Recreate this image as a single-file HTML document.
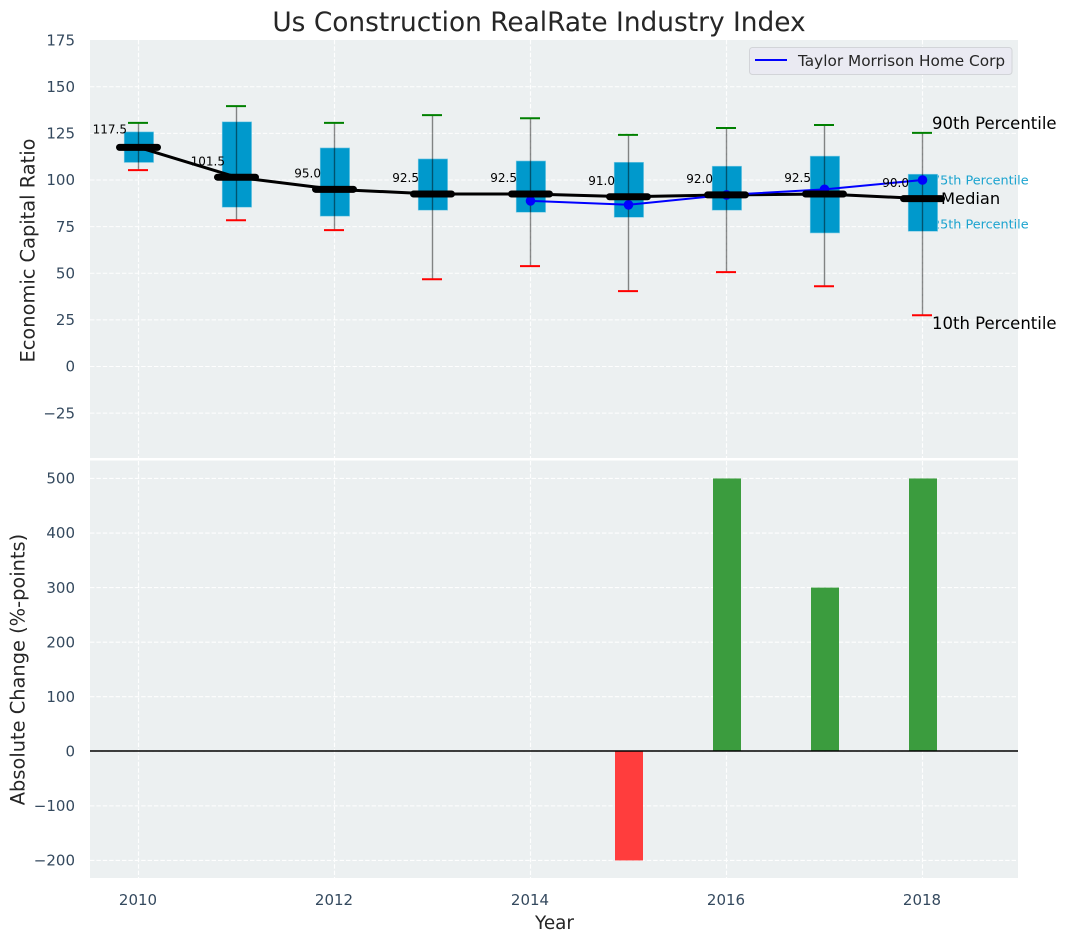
<!DOCTYPE html>
<html>
<head>
<meta charset="utf-8">
<title>Us Construction RealRate Industry Index</title>
<style>
html,body{margin:0;padding:0;background:#fff;width:1067px;height:942px;overflow:hidden}
svg{display:block}
text{font-family:"DejaVu Sans","Liberation Sans",sans-serif}
</style>
</head>
<body>
<svg id="chart" xmlns="http://www.w3.org/2000/svg" width="1067" height="942" viewBox="0 0 1067 942">
  <rect x="0" y="0" width="1067" height="942" fill="#ffffff"/>
  <rect x="90" y="40" width="928" height="418" fill="#ecf0f1"/>
  <rect x="90" y="460.5" width="928" height="417.5" fill="#ecf0f1"/>
  <g id="grid"></g>
  <g id="ticks"></g>
  <text x="932" y="184.5" font-size="12.8" fill="#1ba3cf">75th Percentile</text>
  <text x="932" y="228.5" font-size="12.8" fill="#1ba3cf">25th Percentile</text>
  <g id="marks"></g>
  <g id="bars"></g>
  <line x1="90" x2="1018" y1="751" y2="751" stroke="#000" stroke-width="1.5"/>
  <text x="539" y="31" font-size="26.4" text-anchor="middle" fill="#262626">Us Construction RealRate Industry Index</text>
  <text transform="translate(34.5,250.5) rotate(-90)" font-size="19.4" text-anchor="middle" fill="#262626">Economic Capital Ratio</text>
  <text transform="translate(24.5,669.5) rotate(-90)" font-size="19.4" text-anchor="middle" fill="#262626">Absolute Change (%-points)</text>
  <text x="554.5" y="929" font-size="18.4" text-anchor="middle" fill="#262626">Year</text>
  <text x="932" y="129" font-size="16.5" fill="#000">90th Percentile</text>
  <text x="932" y="329" font-size="16.5" fill="#000">10th Percentile</text>
  <text x="941" y="204" font-size="16.3" fill="#000">Median</text>
  <g>
    <rect x="749.5" y="47.5" width="262.5" height="27" rx="3" fill="#eaeaf2" stroke="#d2d4d8" stroke-width="1"/>
    <line x1="755" x2="787" y1="60" y2="60" stroke="#0000ff" stroke-width="2"/>
    <text x="798" y="66" font-size="15.3" fill="#262626">Taylor Morrison Home Corp</text>
  </g>
</svg>
<script>
const years = [2010, 2011, 2012, 2013, 2014, 2015, 2016, 2017, 2018];
const p90 = [130.6, 139.6, 130.6, 134.8, 133.1, 124.2, 127.9, 129.5, 125.3];
const p75 = [125.8, 131.2, 117.2, 111.3, 110.2, 109.5, 107.4, 112.8, 103.1];
const medians = [117.5, 101.5, 95.0, 92.5, 92.5, 91.0, 92.0, 92.5, 90.0];
const p25 = [109.4, 85.4, 80.6, 83.8, 82.7, 80.0, 83.8, 71.6, 72.5];
const p10 = [105.3, 78.4, 73.1, 46.8, 53.8, 40.4, 50.6, 43.0, 27.5];
const companyYears = [2014, 2015, 2016, 2017, 2018];
const companyValues = [88.8, 86.7, 92.0, 95.0, 100.0];
const changeYears = [2015, 2016, 2017, 2018];
const changeValues = [-200, 500, 300, 500];
const xTicks = [2010, 2012, 2014, 2016, 2018];
const topTicks = [175, 150, 125, 100, 75, 50, 25, 0, -25];
const bottomTicks = [500, 400, 300, 200, 100, 0, -100, -200];

const SVG_NS = 'http://www.w3.org/2000/svg';
const xPos = v => 138.5 + (v - 2010) * 98;
const yTop = v => 366.5 - v * 1.865;
const yBottom = v => 751.3 - v * 0.5457;
const gridG = document.getElementById('grid');
const ticksG = document.getElementById('ticks');
const marksG = document.getElementById('marks');
const barsG = document.getElementById('bars');

function make(tag, attrs, parent) {
  const node = document.createElementNS(SVG_NS, tag);
  for (const key in attrs) node.setAttribute(key, attrs[key]);
  parent.appendChild(node);
  return node;
}
const fmtTick = v => (v < 0 ? '\u2212' + Math.abs(v) : String(v));
const gridStyle = {stroke: '#ffffff', 'stroke-width': 1.1, 'stroke-dasharray': '4.4 2', opacity: 0.95};

xTicks.forEach(t => {
  const gt = make('line', {x1: xPos(t), x2: xPos(t), y1: 40, y2: 458, ...gridStyle}, gridG);
  
  
  const gb = make('line', {x1: xPos(t), x2: xPos(t), y1: 461, y2: 878, ...gridStyle}, gridG);
  
  
  const lbl = make('text', {x: xPos(t) - 0.5, y: 905, 'font-size': 15, 'text-anchor': 'middle', fill: '#34495e'}, ticksG);
  lbl.textContent = String(t);
  
  
});
topTicks.forEach(t => {
  if (t !== 175) {
    const g = make('line', {x1: 90, x2: 1018, y1: yTop(t), y2: yTop(t), ...gridStyle}, gridG);
    
    
  }
  const lbl = make('text', {x: 75, y: yTop(t) + 5.2, 'font-size': 15, 'text-anchor': 'end', fill: '#34495e'}, ticksG);
  lbl.textContent = fmtTick(t);
  
  
});
bottomTicks.forEach(t => {
  const g = make('line', {x1: 90, x2: 1018, y1: yBottom(t), y2: yBottom(t), ...gridStyle}, gridG);
  
  
  const lbl = make('text', {x: 75, y: yBottom(t) + 5.2, 'font-size': 15, 'text-anchor': 'end', fill: '#34495e'}, ticksG);
  lbl.textContent = fmtTick(t);
  
  
});

years.forEach((yr, i) => {
  const box = make('rect', {x: xPos(yr) - 14.3, y: yTop(p75[i]), width: 29.4, height: yTop(p25[i]) - yTop(p75[i]), fill: '#0099cc', stroke: '#7fcce5', 'stroke-width': 0.6}, marksG);
  
  
  const whisker = make('line', {x1: xPos(yr), x2: xPos(yr), y1: yTop(p90[i]), y2: yTop(p10[i]), stroke: '#000', 'stroke-width': 1.4, opacity: 0.45}, marksG);
  
  
  const capHigh = make('line', {x1: xPos(yr) - 10.5, x2: xPos(yr) + 9.5, y1: yTop(p90[i]), y2: yTop(p90[i]), stroke: '#008000', 'stroke-width': 2}, marksG);
  
  
  const capLow = make('line', {x1: xPos(yr) - 10.5, x2: xPos(yr) + 9.5, y1: yTop(p10[i]), y2: yTop(p10[i]), stroke: '#ff0000', 'stroke-width': 2}, marksG);
  
  
});

const medianLine = make('polyline', {points: years.map((yr, i) => xPos(yr) + ',' + yTop(medians[i])).join(' '), fill: 'none', stroke: '#000', 'stroke-width': 3}, marksG);



const companyLine = make('polyline', {points: companyYears.map((yr, i) => xPos(yr) + ',' + yTop(companyValues[i])).join(' '), fill: 'none', stroke: '#0000ff', 'stroke-width': 2}, marksG);


companyYears.forEach((yr, i) => {
  const dot = make('circle', {cx: xPos(yr), cy: yTop(companyValues[i]), r: 4.8, fill: '#0000ff'}, marksG);
  
  
});

years.forEach((yr, i) => {
  const bar = make('line', {x1: xPos(yr) - 19, x2: xPos(yr) + 19, y1: yTop(medians[i]), y2: yTop(medians[i]), stroke: '#000', 'stroke-width': 7, 'stroke-linecap': 'round'}, marksG);
  
  
  const text = medians[i].toFixed(1);
  const lbl = make('text', {x: xPos(yr) - (text.length > 4 ? 11.5 : 13.5), y: yTop(medians[i]) - (i === 0 ? 14 : 11.8), 'font-size': 12, 'text-anchor': 'end', fill: '#000'}, marksG);
  lbl.textContent = text;
  
  
});

changeYears.forEach((yr, i) => {
  const v = changeValues[i];
  const top = Math.min(yBottom(v), yBottom(0));
  const h = Math.abs(yBottom(v) - yBottom(0));
  const bar = make('rect', {x: xPos(yr) - 13.5, y: top, width: 28, height: h, fill: v >= 0 ? '#3b9c3e' : '#ff3d3d'}, barsG);
  
  
});
</script>
</body>
</html>
